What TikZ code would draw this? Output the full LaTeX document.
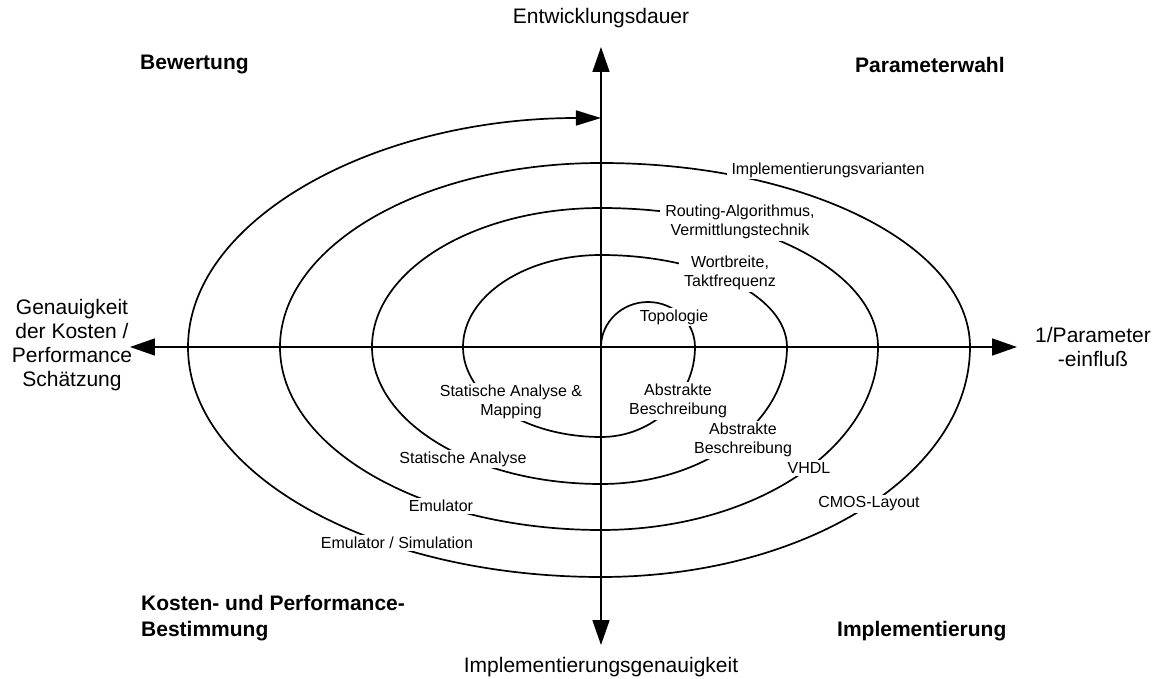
\documentclass[tikz,border=0pt]{standalone}
\usepackage{fontspec}
\setmainfont{Liberation Sans}
\usetikzlibrary{arrows.meta}

\begin{document}
\begin{tikzpicture}[x=1pt,y=1pt,
  bigtip/.tip={Triangle[length=25pt,width=17pt]},
  axisline/.style={line width=1.7pt,{bigtip}-{bigtip}},
  spiralline/.style={line width=1.7pt,-{Triangle[length=25pt,width=15pt]}},
  axislabel/.style={font=\fontsize{21}{24}\selectfont,align=center,inner sep=0pt},
  quadrant/.style={font=\fontsize{21}{26}\selectfont\bfseries,align=left,inner sep=0pt,anchor=west},
  phase/.style={font=\fontsize{16}{19}\selectfont,align=center,fill=white,inner xsep=5pt,inner ysep=2pt}]

\useasboundingbox[fill=white] (-601,-332) rectangle (558,347);

% origin and axis end points
\coordinate (O) at (0,0);
\coordinate (xl) at (-471,0);
\coordinate (xr) at (416,0);
\coordinate (yt) at (0,300);
\coordinate (yb) at (0,-298);

% spiral built from quarter ellipses around the origin
\draw[spiralline] (O)
  arc[start angle=180, end angle=0,    x radius=47pt,  y radius=45pt]
  arc[start angle=0,   end angle=-90,  x radius=94pt,  y radius=90pt]
  arc[start angle=-90, end angle=-180, x radius=138pt, y radius=90pt]
  arc[start angle=180, end angle=90,   x radius=138pt, y radius=92pt]
  arc[start angle=90,  end angle=0,    x radius=186pt, y radius=92pt]
  arc[start angle=0,   end angle=-90,  x radius=186pt, y radius=137pt]
  arc[start angle=-90, end angle=-180, x radius=229pt, y radius=137pt]
  arc[start angle=180, end angle=90,   x radius=229pt, y radius=139pt]
  arc[start angle=90,  end angle=0,    x radius=277pt, y radius=139pt]
  arc[start angle=0,   end angle=-90,  x radius=277pt, y radius=183pt]
  arc[start angle=-90, end angle=-180, x radius=321pt, y radius=183pt]
  arc[start angle=180, end angle=90,   x radius=321pt, y radius=184pt]
  arc[start angle=90,  end angle=0,    x radius=369pt, y radius=184pt]
  arc[start angle=0,   end angle=-90,  x radius=369pt, y radius=230pt]
  arc[start angle=-90, end angle=-180, x radius=413pt, y radius=230pt]
  arc[start angle=180, end angle=90,   x radius=413pt, y radius=229pt];

% phase labels on the spiral
\node[phase] (impvar) at (227,177) {Implementierungsvarianten};
\node[phase] (routing) at (139,125) {Routing-Algorithmus,\\Vermittlungstechnik};
\node[phase] (wort) at (129,74) {Wortbreite,\\Taktfrequenz};
\node[phase] (topo) at (73,30) {Topologie};
\node[phase] (stamap) at (-90,-55) {Statische Analyse \&\\Mapping};
\node[phase] (abs1) at (77,-54) {Abstrakte\\Beschreibung};
\node[phase] (abs2) at (142,-93) {Abstrakte\\Beschreibung};
\node[phase] (vhdl) at (208,-121) {VHDL};
\node[phase] (cmos) at (268,-157) {CMOS-Layout};
\node[phase] (stat) at (-138,-112) {Statische Analyse};
\node[phase] (emu) at (-160,-159) {Emulator};
\node[phase] (emusim) at (-204,-196) {Emulator / Simulation};

% axes
\draw[axisline] (xl) -- (xr);
\draw[axisline] (yb) -- (yt);

% axis captions
\node[axislabel] (dauer) at (0,329) {Entwicklungsdauer};
\node[axislabel] (genau) at (-529,2) {Genauigkeit\\der Kosten /\\Performance\\Schätzung};
\node[axislabel] (param) at (492,0) {1/Parameter\\-einfluß};
\node[axislabel] (impgen) at (0,-320) {Implementierungsgenauigkeit};

% quadrant titles
\node[quadrant] (bew) at (-461,282) {Bewertung};
\node[quadrant] (pwahl) at (254,282) {Parameterwahl};
\node[quadrant] (kosten) at (-460,-271) {Kosten- und Performance-\\Bestimmung};
\node[quadrant] (impl) at (236,-284) {Implementierung};

\end{tikzpicture}
\end{document}
